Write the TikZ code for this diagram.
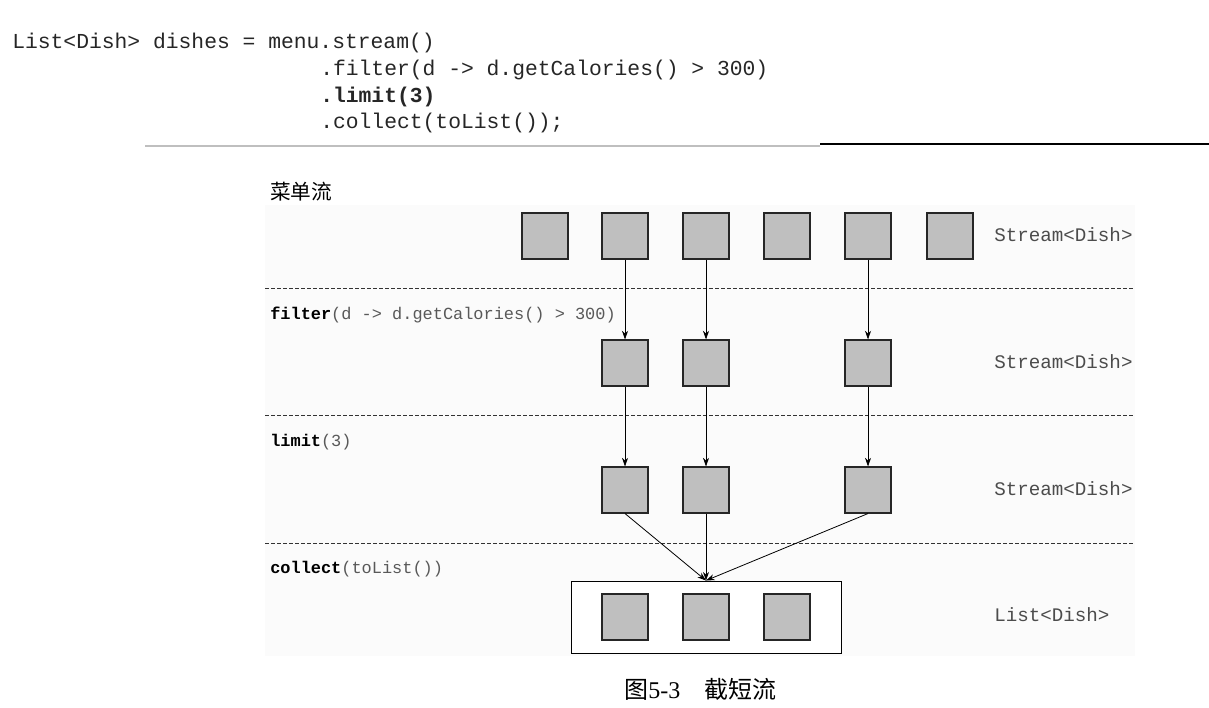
\documentclass[tikz,border=0pt]{standalone}
\usepackage{fontspec}
\setmonofont{Liberation Mono}
\newfontfamily\cjk{Noto Sans CJK SC}
\newfontfamily\capserif{Liberation Serif}
\usetikzlibrary{arrows.meta}
\begin{document}
\begin{tikzpicture}[x=0.75pt,y=-0.75pt,
  sq/.style={draw=black!85,line width=0.8pt,fill=black!25,minimum size=34.5pt,inner sep=0pt},
  code/.style={anchor=base west,inner sep=0pt,font=\ttfamily\fontsize{16}{18}\selectfont,text=black!85},
  lbl/.style={anchor=base west,inner sep=0pt,font=\ttfamily\fontsize{12.7}{14}\selectfont,text=black!65},
  typ/.style={anchor=base west,inner sep=0pt,font=\ttfamily\fontsize{14.4}{16}\selectfont,text=black!70},
  sep/.style={dashed,dash pattern=on 3pt off 1.5pt,line width=0.7pt,draw=black!80},
  arr/.style={-{Stealth[length=6.5pt,width=4.5pt]},line width=0.6pt,black}]
\useasboundingbox (0,0) rectangle (1209,707);
% code
\node[code] (c1) at (12,48) {List<Dish> dishes = menu.stream()};
\node[code] (c2) at (320,75) {.filter(d -> d.getCalories() > 300)};
\node[code] (c3) at (320,102) {\bfseries .limit(3)};
\node[code] (c4) at (320,128) {.collect(toList());};
\draw[black!25,line width=0.8pt] (145,146) -- (820,146);
\draw[black,line width=0.8pt] (820,144) -- (1209,144);
% background
\fill[black!1.5] (265,205) rectangle (1135,656);
\node[anchor=base west,inner sep=0pt,font=\cjk\fontsize{15.5}{18}\selectfont] (t0) at (270,199) {菜单流};
% separators
\draw[sep] (265,288) -- (1135,288);
\draw[sep] (265,415) -- (1135,415);
\draw[sep] (265,543) -- (1135,543);
% labels
\node[lbl] (l1) at (270,319) {\textcolor{black}{\bfseries filter}(d -> d.getCalories() > 300)};
\node[lbl] (l2) at (270,446) {\textcolor{black}{\bfseries limit}(3)};
\node[lbl] (l3) at (270,573) {\textcolor{black}{\bfseries collect}(toList())};
\node[typ] (s1) at (994,241) {Stream<Dish>};
\node[typ] (s2) at (994,368) {Stream<Dish>};
\node[typ] (s3) at (994,495) {Stream<Dish>};
\node[typ] (s4) at (994,621) {List<Dish>};
% row 1
\node[sq] (a1) at (545,236) {};
\node[sq] (a2) at (625,236) {};
\node[sq] (a3) at (706,236) {};
\node[sq] (a4) at (787,236) {};
\node[sq] (a5) at (868,236) {};
\node[sq] (a6) at (950,236) {};
% row 2
\node[sq] (b2) at (625,363) {};
\node[sq] (b3) at (706,363) {};
\node[sq] (b5) at (868,363) {};
% row 3
\node[sq] (d2) at (625,490) {};
\node[sq] (d3) at (706,490) {};
\node[sq] (d5) at (868,490) {};
% list box
\node[draw=black,line width=0.7pt,fill=white,minimum width=202.5pt,minimum height=54pt,inner sep=0pt] (box) at (706,617) {};
\node[sq] (e1) at (625,617) {};
\node[sq] (e2) at (706,617) {};
\node[sq] (e3) at (787,617) {};
% arrows
\draw[arr] (a2.south) -- (b2.north);
\draw[arr] (a3.south) -- (b3.north);
\draw[arr] (a5.south) -- (b5.north);
\draw[arr] (b2.south) -- (d2.north);
\draw[arr] (b3.south) -- (d3.north);
\draw[arr] (b5.south) -- (d5.north);
\draw[arr] (d2.south) -- (box.north);
\draw[arr] (d3.south) -- (box.north);
\draw[arr] (d5.south) -- (box.north);
% caption
\node[anchor=base west,inner sep=0pt,font=\fontsize{18}{21}\selectfont] (cap) at (624,698) {{\cjk 图}{\capserif 5-3}\hspace{18pt}{\cjk 截短流}};
\end{tikzpicture}
\end{document}
